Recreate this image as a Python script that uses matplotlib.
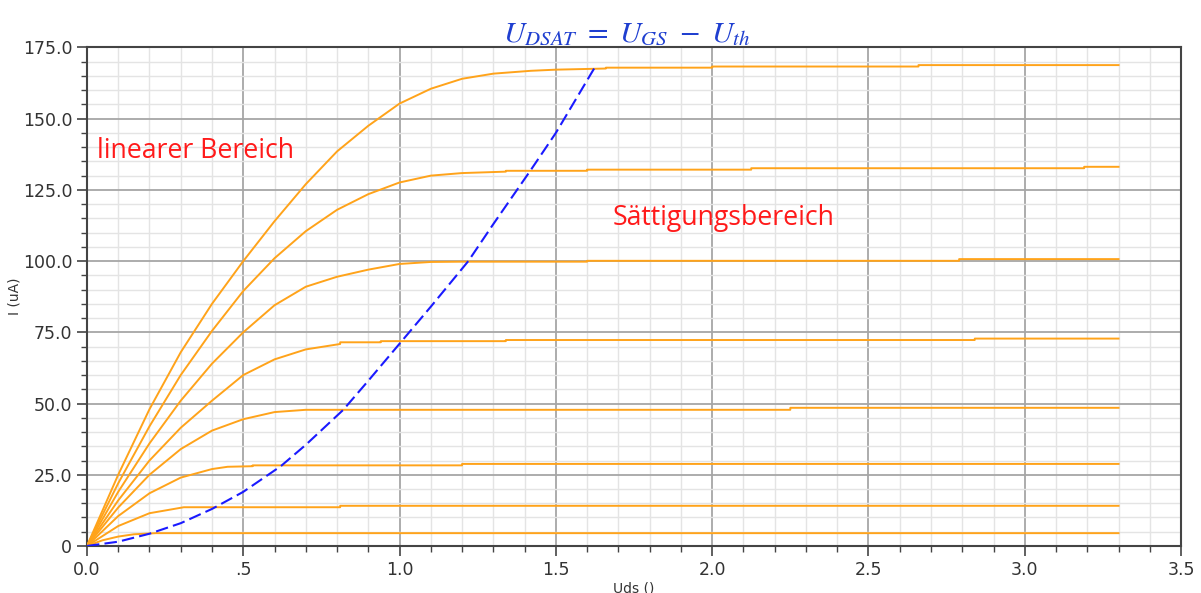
import matplotlib
matplotlib.use("Agg")
from matplotlib import pyplot as plt
from matplotlib.ticker import MultipleLocator, FuncFormatter

# Uds [V] / I [uA], one list pair per gate voltage
uds_1 = [0.0, 0.05, 0.1, 0.15, 0.22, 3.3]
ids_1 = [0.0, 2.0, 3.3, 4.1, 4.5, 4.5]

uds_2 = [0.0, 0.1, 0.2, 0.31, 0.81, 0.81, 3.3]
ids_2 = [0.0, 7.0, 11.5, 13.6, 13.6, 14.1, 14.1]

uds_3 = [0.0, 0.1, 0.2, 0.3, 0.4, 0.45, 0.53, 0.53, 1.2, 1.2, 3.3]
ids_3 = [0.0, 10.5, 18.5, 24.0, 27.0, 27.8, 28.0, 28.3, 28.3, 28.8, 28.8]

uds_4 = [0.0, 0.1, 0.2, 0.3, 0.4, 0.5, 0.6, 0.7, 2.25, 2.25, 3.3]
ids_4 = [0.0, 13.5, 25.0, 34.0, 40.5, 44.5, 47.0, 47.8, 47.8, 48.5, 48.5]

uds_5 = [0.0, 0.1, 0.2, 0.3, 0.4, 0.5, 0.6, 0.7, 0.81, 0.81, 0.94, 0.94, 1.34, 1.34, 2.84, 2.84, 3.3]
ids_5 = [0.0, 16.0, 30.0, 41.5, 51.0, 60.0, 65.5, 69.0, 70.9, 71.5, 71.5, 71.9, 71.9, 72.3, 72.3, 72.8, 72.8]

uds_6 = [0.0, 0.1, 0.2, 0.3, 0.4, 0.5, 0.6, 0.7, 0.8, 0.9, 1.0, 1.1, 1.2, 1.6, 1.6, 2.79, 2.79, 3.3]
ids_6 = [0.0, 19.0, 36.0, 51.0, 64.0, 75.0, 84.5, 91.0, 94.5, 97.0, 99.0, 99.7, 99.8, 99.8, 100.1, 100.1, 100.7, 100.7]

uds_7 = [0.0, 0.1, 0.2, 0.3, 0.4, 0.5, 0.6, 0.7, 0.8, 0.9, 1.0, 1.1, 1.2, 1.34, 1.34, 1.6, 1.6,
         2.125, 2.125, 3.19, 3.19, 3.3]
ids_7 = [0.0, 22.0, 42.0, 60.0, 75.5, 89.5, 101.0, 110.5, 118.0, 123.5, 127.6, 130.0, 130.9, 131.4,
         131.7, 131.7, 132.1, 132.1, 132.6, 132.6, 133.1, 133.1]

uds_8 = [0.0, 0.1, 0.2, 0.3, 0.4, 0.5, 0.6, 0.7, 0.8, 0.9, 1.0, 1.1, 1.2, 1.3, 1.42, 1.5, 1.66, 1.66,
         2.0, 2.0, 2.66, 2.66, 3.3]
ids_8 = [0.0, 25.0, 48.0, 68.0, 85.0, 100.0, 114.0, 127.0, 138.5, 147.5, 155.3, 160.5, 164.0, 165.8,
         166.8, 167.2, 167.6, 167.9, 167.9, 168.3, 168.3, 168.8, 168.8]

# saturation boundary U_DSAT
uds_sat = [0.0, 0.1, 0.2, 0.3, 0.4, 0.5, 0.62, 0.7, 0.82, 0.9, 1.0, 1.1, 1.22, 1.3, 1.42, 1.5, 1.63]
ids_sat = [0.0, 1.5, 4.3, 8.0, 13.0, 19.0, 28.0, 35.5, 47.8, 58.0, 71.0, 84.0, 100.0, 113.0, 132.0, 145.0, 169.0]

curves = [(uds_1, ids_1), (uds_2, ids_2), (uds_3, ids_3), (uds_4, ids_4),
          (uds_5, ids_5), (uds_6, ids_6), (uds_7, ids_7), (uds_8, ids_8)]


def y_label(v, pos):
    return "0" if v == 0 else "%.1f" % v


def x_label(v, pos):
    return ".5" if abs(v - 0.5) < 1e-9 else "%.1f" % v


plt.rcParams["mathtext.fontset"] = "stix"

fig = plt.figure(figsize=(12.01, 5.93), dpi=100)
ax = fig.add_axes([0.0724, 0.0793, 0.911, 0.8407])

for uds, ids in curves:
    ax.plot(uds, ids, color="#ffa31a", lw=1.4, zorder=3)

ax.plot(uds_sat, ids_sat, color="#1a1aff", lw=1.5, ls=(0, (6, 2.5)), zorder=4)

ax.set_xlim(0, 3.5)
ax.set_ylim(0, 175)
ax.xaxis.set_major_locator(MultipleLocator(0.5))
ax.xaxis.set_minor_locator(MultipleLocator(0.1))
ax.yaxis.set_major_locator(MultipleLocator(25))
ax.yaxis.set_minor_locator(MultipleLocator(5))
ax.xaxis.set_major_formatter(FuncFormatter(x_label))
ax.yaxis.set_major_formatter(FuncFormatter(y_label))

ax.grid(which="major", color="#a6a6a6", lw=1.3, zorder=1)
ax.grid(which="minor", color="#e4e4e4", lw=1.0, zorder=0)
ax.set_axisbelow(True)

for side in ["top", "right", "left", "bottom"]:
    ax.spines[side].set_color("#444444")
    ax.spines[side].set_linewidth(1.5)

ax.tick_params(which="major", length=7, width=1.2, color="#444444", labelsize=12.5,
               labelcolor="#333333")
ax.tick_params(which="minor", length=4, width=1.0, color="#444444")

ax.set_ylabel("I (uA)", fontsize=10, color="#333333")
ax.yaxis.set_label_coords(-0.0594, 0.5)
ax.set_xlabel("Uds ()", fontsize=10, color="#333333", labelpad=2)

ax.text(0.032, 138.8, "linearer Bereich", color="#ff1a1a", fontsize=19.2,
        family="Open Sans", va="center", ha="left")
ax.text(1.68, 115.2, "Sättigungsbereich", color="#ff1a1a", fontsize=19.2,
        family="Open Sans", va="center", ha="left")

fig.text(0.522, 0.944, r"$U_{DSAT}\ =\ U_{GS}\ -\ U_{th}$", color="#1f3fd0",
         fontsize=21.5, ha="center", va="center")

fig.savefig("out.png", dpi=100)
